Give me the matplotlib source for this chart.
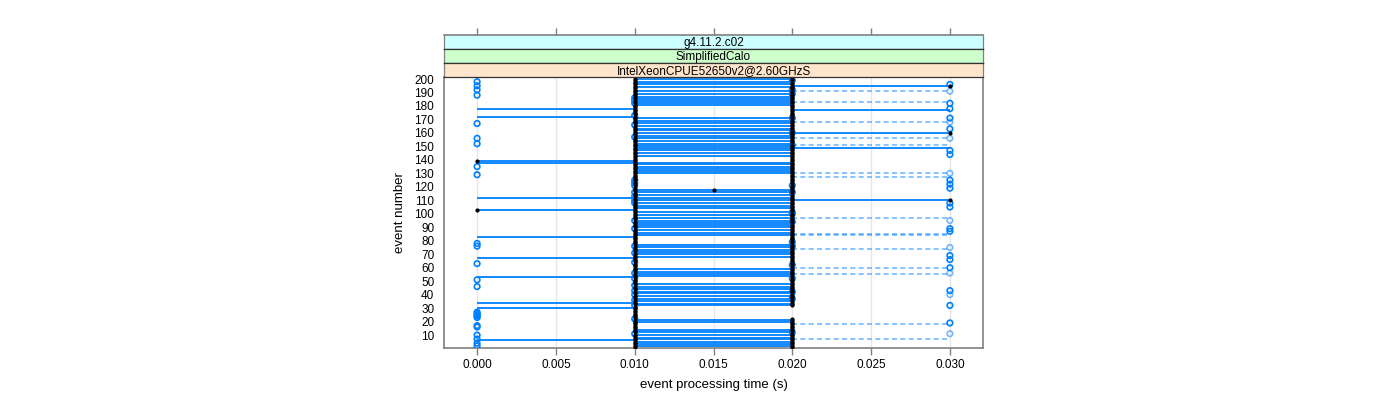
import matplotlib
matplotlib.use("Agg")
import matplotlib.pyplot as plt

plt.rcParams["font.family"] = ["Liberation Sans", "DejaVu Sans"]

# strip labels, outer to inner
strip_labels = ["g4.11.2.c02", "SimplifiedCalo", "IntelXeonCPUE52650v2@2.60GHzS"]
strip_colors = ["#ccffff", "#ccffcc", "#ffe5cc"]

x_ticks = [0.000, 0.005, 0.010, 0.015, 0.020, 0.025, 0.030]
y_ticks = list(range(10, 201, 10))

# event numbers, grouped by processing time
open_000 = [198, 195, 192, 188, 167, 156, 152, 135, 129, 78, 76, 63, 51, 46,
            27, 26, 25, 24, 23, 17, 16, 10, 7, 4, 2]
dot_000 = [139, 103]
open_010 = [186, 184, 182, 173, 166, 157, 125, 123, 121, 116, 113, 110, 108,
            95, 89, 76, 71, 64, 56, 52, 47, 43, 40, 36, 32, 22, 11]
dot_010_missing = [185, 183, 173, 166, 157, 124, 122, 120, 116, 112, 109, 95,
                   89, 76, 71, 64, 56, 52, 47, 43, 40, 36, 32, 22, 11]
dot_015 = [118]
open_020 = [199, 192, 189, 171, 160, 151, 121, 116, 101, 100, 94, 79, 76, 62,
            52, 42, 37, 12]
dot_020_missing = [198, 191, 170, 152, 122, 115, 101, 93, 78, 61, 53, 41, 36,
                   31, 30, 29, 28, 27, 26, 25, 24, 23, 12]
open_030 = [196, 182, 178, 171, 163, 147, 144, 125, 122, 119, 108, 105, 89, 87,
            69, 66, 60, 43, 32, 19]
light_030 = [191, 168, 156, 130, 95, 75, 56, 40, 11]
dot_030 = [195, 160, 110]

# horizontal segments: event numbers per time span
solid_000_010 = [178, 172, 139, 138, 112, 103, 83, 67, 53, 34, 30, 6]
solid_010_020 = [200, 198, 196, 194, 191, 189, 187, 185, 184, 182, 181, 171,
                 169, 167, 165, 163, 162, 160, 158, 156, 154, 152, 150, 149,
                 147, 145, 143, 138, 137, 135, 133, 132, 130, 118, 116, 114,
                 112, 110, 108, 106, 104, 101, 99, 97, 95, 93, 92, 90, 88, 86,
                 84, 77, 75, 73, 72, 70, 68, 59, 57, 55, 54, 48, 46, 44, 42,
                 41, 39, 37, 35, 33, 32, 21, 20, 14, 12, 10, 8, 7, 5, 3, 2]
solid_020_030 = [195, 177, 160, 149, 110]
dashed_020_030 = [191, 183, 168, 156, 151, 130, 127, 97, 85, 84, 74, 60, 55, 18, 7]

events = list(range(1, 201))
dot_010 = [e for e in events if e not in dot_010_missing]
dot_020 = [e for e in events if e not in dot_020_missing]

blue = "#0080ff"
frame = "#808080"

fig = plt.figure(figsize=(14, 4), dpi=100)
ax = fig.add_axes([444 / 1400, 1 - 348 / 400, (983 - 444) / 1400, (348 - 77) / 400])
ax.set_xlim(-0.0021, 0.0321)
ax.set_ylim(0.4, 201.5)

for xv in x_ticks:
    ax.axvline(xv, color="#e6e6e6", lw=1, zorder=0)

# segments
ax.hlines(solid_000_010, 0.0, 0.01, colors=blue, lw=1.3, zorder=2)
ax.hlines(solid_010_020, 0.01, 0.02, colors=blue, lw=1.3, zorder=2)
ax.hlines(solid_020_030, 0.02, 0.03, colors=blue, lw=1.3, zorder=2)
ax.hlines(dashed_020_030, 0.02, 0.03, colors=blue, lw=1.2, alpha=0.55,
          linestyles=(0, (3, 2)), zorder=2)

# open circles
circ = dict(s=16, facecolors="none", linewidths=1.2, zorder=3)
ax.scatter([0.0] * len(open_000), open_000, edgecolors=blue, **circ)
ax.scatter([0.01] * len(open_010), open_010, edgecolors=blue, **circ)
ax.scatter([0.02] * len(open_020), open_020, edgecolors=blue, **circ)
ax.scatter([0.03] * len(open_030), open_030, edgecolors=blue, **circ)
ax.scatter([0.03] * len(light_030), light_030, edgecolors=blue, alpha=0.55, **circ)

# filled black dots
dot = dict(s=9, color="black", linewidths=0, zorder=4)
ax.scatter([0.0] * len(dot_000), dot_000, **dot)
ax.scatter([0.01] * len(dot_010), dot_010, **dot)
ax.scatter([0.015] * len(dot_015), dot_015, **dot)
ax.scatter([0.02] * len(dot_020), dot_020, **dot)
ax.scatter([0.03] * len(dot_030), dot_030, **dot)

ax.set_xticks(x_ticks)
ax.set_xticklabels([f"{v:.3f}" for v in x_ticks], fontsize=8.5)
ax.set_yticks(y_ticks)
ax.set_yticklabels([str(v) for v in y_ticks], fontsize=8.5)
ax.tick_params(axis="x", length=5, width=1, color=frame, pad=3)
ax.tick_params(axis="y", length=0, pad=7)
for sp in ax.spines.values():
    sp.set_color(frame)
    sp.set_linewidth(1.2)
ax.set_xlabel("event processing time (s)", fontsize=9.5, labelpad=6)
ax.set_ylabel("event number", fontsize=9.5, labelpad=6)

# strips
strip_h = 14 / 400
for i, (lab, col) in enumerate(zip(strip_labels, strip_colors)):
    top = 35 + i * 14
    sax = fig.add_axes([444 / 1400, 1 - (top + 14) / 400, (983 - 444) / 1400, strip_h])
    sax.set_facecolor(col)
    sax.set_xlim(ax.get_xlim())
    sax.set_yticks([])
    sax.text(0.5, 0.42, lab, transform=sax.transAxes, ha="center", va="center",
             fontsize=8.5)
    for sp in sax.spines.values():
        sp.set_color("#333333")
        sp.set_linewidth(0.9)
    sax.spines["left"].set_color(frame)
    sax.spines["right"].set_color(frame)
    if i == 0:
        sax.spines["top"].set_color(frame)
        sax.spines["top"].set_linewidth(1.2)
        sax.xaxis.tick_top()
        sax.set_xticks(x_ticks)
        sax.set_xticklabels([])
        sax.tick_params(axis="x", length=5, width=1, color=frame)
    else:
        sax.set_xticks([])

fig.savefig("out.png", dpi=100)
